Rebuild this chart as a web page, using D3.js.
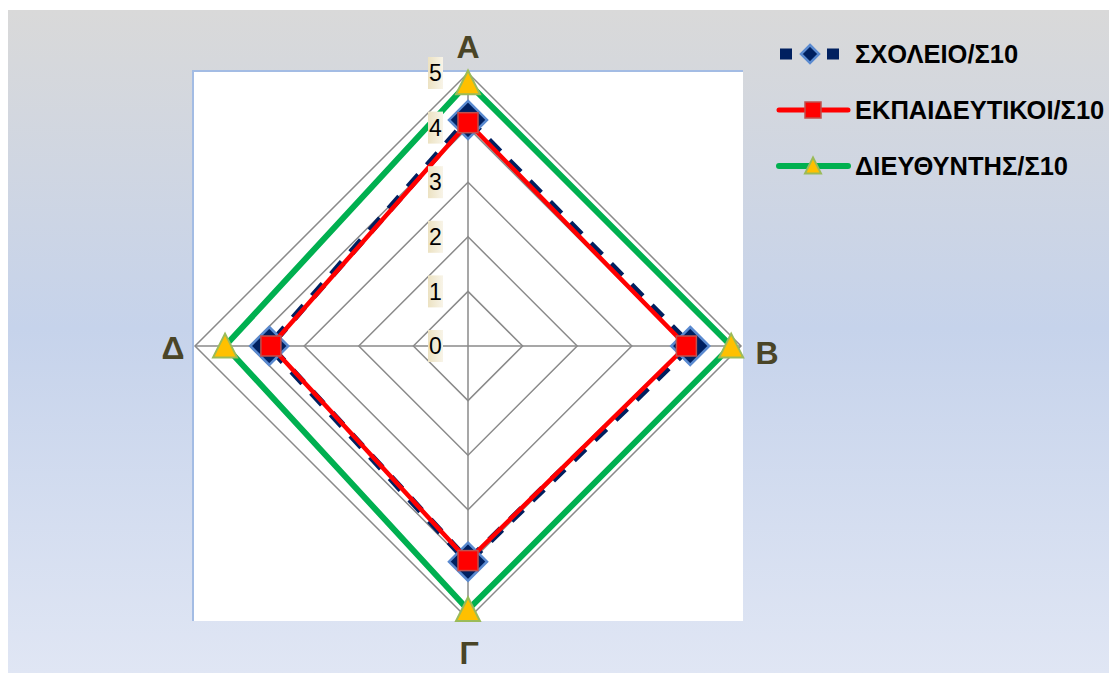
<!DOCTYPE html>
<html><head><meta charset="utf-8">
<script src="https://cdn.jsdelivr.net/npm/d3@7"></script>
<style>
html,body{margin:0;padding:0;background:#fff;}
svg{display:block;}
text{font-family:"Liberation Sans",Arial,sans-serif;}
</style></head>
<body>
<svg id="chart" width="1109" height="673"></svg>
<script>
const categories = ["Α","Β","Γ","Δ"];
const ticks = [0,1,2,3,4,5];
const seriesNames = ["ΣΧΟΛΕΙΟ/Σ10","ΕΚΠΑΙΔΕΥΤΙΚΟΙ/Σ10","ΔΙΕΥΘΥΝΤΗΣ/Σ10"];
const schoolValues = [4.14, 4.07, 3.95, 3.64];
const teacherValues = [4.09, 4.00, 3.93, 3.61];
const directorValues = [4.82, 4.82, 4.83, 4.45];

const svg = d3.select("#chart");
const defs = svg.append("defs");
const bg = defs.append("linearGradient").attr("id","bg").attr("x1",0).attr("y1",0).attr("x2",0).attr("y2",1);
bg.append("stop").attr("offset","0%").attr("stop-color","#d9d9d9");
bg.append("stop").attr("offset","48%").attr("stop-color","#c6d3eb");
bg.append("stop").attr("offset","100%").attr("stop-color","#e0e6f4");
const lb = defs.append("linearGradient").attr("id","lbl").attr("x1",0).attr("y1",0).attr("x2",1).attr("y2",0);
lb.append("stop").attr("offset","0%").attr("stop-color","#ece2c2");
lb.append("stop").attr("offset","100%").attr("stop-color","#f8f4e8");

svg.append("rect").attr("x",8).attr("y",10).attr("width",1101).attr("height",663).attr("fill","url(#bg)");

// plot area
const pa = {x:193, y:71, w:550, h:550};
svg.append("rect").attr("x",pa.x).attr("y",pa.y).attr("width",pa.w).attr("height",pa.h).attr("fill","#fff");
svg.append("path").attr("d",`M${pa.x},${pa.y+pa.h}V${pa.y}H${pa.x+pa.w}`).attr("fill","none").attr("stroke","#a3bce4").attr("stroke-width",2);

const cx = 468, cy = 346;
const r = d3.scaleLinear().domain([0,5]).range([0,273]);
const angle = d3.scalePoint().domain(categories).range([0, 2*Math.PI*3/4]);
function pt(cat, v){ const a = angle(cat); return [cx + r(v)*Math.sin(a), cy - r(v)*Math.cos(a)]; }

const g = svg.append("g");
// grid polygons
ticks.forEach(t=>{
  const pts = categories.map(c=>pt(c,t));
  g.append("path").attr("d", d3.line()(pts)+"Z").attr("fill","none").attr("stroke","#8a8a8a").attr("stroke-width",1.5);
});
categories.forEach(c=>{
  const p = pt(c,5);
  g.append("line").attr("x1",cx).attr("y1",cy).attr("x2",p[0]).attr("y2",p[1]).attr("stroke","#8a8a8a").attr("stroke-width",1.5);
});

const lineGen = d3.line();
function closed(vals){ return lineGen(categories.map((c,i)=>pt(c,vals[i])))+"Z"; }

// school
g.append("path").attr("d",closed(schoolValues)).attr("fill","none").attr("stroke","#002060").attr("stroke-width",7.5)
  .attr("stroke-dasharray","16 13").attr("stroke-linejoin","miter");
function diamond(sel, x, y, s){
  sel.append("path").attr("d",`M${x},${y-s}L${x+s},${y}L${x},${y+s}L${x-s},${y}Z`)
    .attr("fill","#002060").attr("stroke","#5a8ad0").attr("stroke-width",2.5);
}
categories.forEach((c,i)=>{ const p = pt(c,schoolValues[i]); diamond(g,p[0],p[1],19); });

// teachers
g.append("path").attr("d",closed(teacherValues)).attr("fill","none").attr("stroke","#ff0000").attr("stroke-width",4.5).attr("stroke-linejoin","miter");
function square(sel,x,y,s){
  sel.append("rect").attr("x",x-s/2).attr("y",y-s/2).attr("width",s).attr("height",s)
    .attr("fill","#ff0000").attr("stroke","#c0504d").attr("stroke-width",1.5);
}
categories.forEach((c,i)=>{ const p = pt(c,teacherValues[i]); square(g,p[0],p[1],20); });

// director
g.append("path").attr("d",closed(directorValues)).attr("fill","none").attr("stroke","#00b050").attr("stroke-width",6).attr("stroke-linejoin","miter");
function tri(sel,x,y,s){
  const h = s*0.95;
  sel.append("path").attr("d",`M${x},${y-h/2-1}L${x+s/2},${y+h/2}L${x-s/2},${y+h/2}Z`)
    .attr("fill","#ffc000").attr("stroke","#9bbb59").attr("stroke-width",2);
}
categories.forEach((c,i)=>{ const p = pt(c,directorValues[i]); tri(g,p[0],p[1],24); });

// tick labels
ticks.forEach(t=>{
  const y = cy - r(t);
  const lg = svg.append("g");
  lg.append("rect").attr("x",428).attr("y",y-16).attr("width",15).attr("height",32).attr("fill","url(#lbl)");
  lg.append("text").attr("x",435.5).attr("y",y).attr("dy","0.36em").attr("text-anchor","middle")
    .attr("font-size",23).attr("fill","#000").text(t);
});

// category labels
const labelPos = {"Α":[468,46],"Β":[767,352],"Γ":[469,652],"Δ":[173,347]};
categories.forEach(c=>{
  svg.append("text").attr("x",labelPos[c][0]).attr("y",labelPos[c][1]).attr("dy","0.36em")
    .attr("text-anchor","middle").attr("font-weight","bold").attr("font-size",32).attr("fill","#4a4527").text(c);
});

// legend
const leg = svg.append("g");
const rows = [54,110,166];
leg.append("line").attr("x1",780).attr("x2",840).attr("y1",rows[0]).attr("y2",rows[0]).attr("stroke","#002060").attr("stroke-width",11).attr("stroke-dasharray","12 35");
leg.append("path").attr("d",`M810,${rows[0]-9}L819,${rows[0]}L810,${rows[0]+9}L801,${rows[0]}Z`).attr("fill","#002060").attr("stroke","#5a8ad0").attr("stroke-width",2.5);
leg.append("line").attr("x1",779).attr("x2",848).attr("y1",rows[1]).attr("y2",rows[1]).attr("stroke","#ff0000").attr("stroke-width",5).attr("stroke-linecap","round");
square(leg,813,rows[1],16);
leg.append("line").attr("x1",779).attr("x2",848).attr("y1",rows[2]).attr("y2",rows[2]).attr("stroke","#00b050").attr("stroke-width",6).attr("stroke-linecap","round");
tri(leg,813,rows[2],16);
seriesNames.forEach((n,i)=>{
  leg.append("text").attr("x",855).attr("y",rows[i]).attr("dy","0.36em").attr("font-weight","bold").attr("font-size",25.5).attr("fill","#000").text(n);
});
</script>
</body></html>
